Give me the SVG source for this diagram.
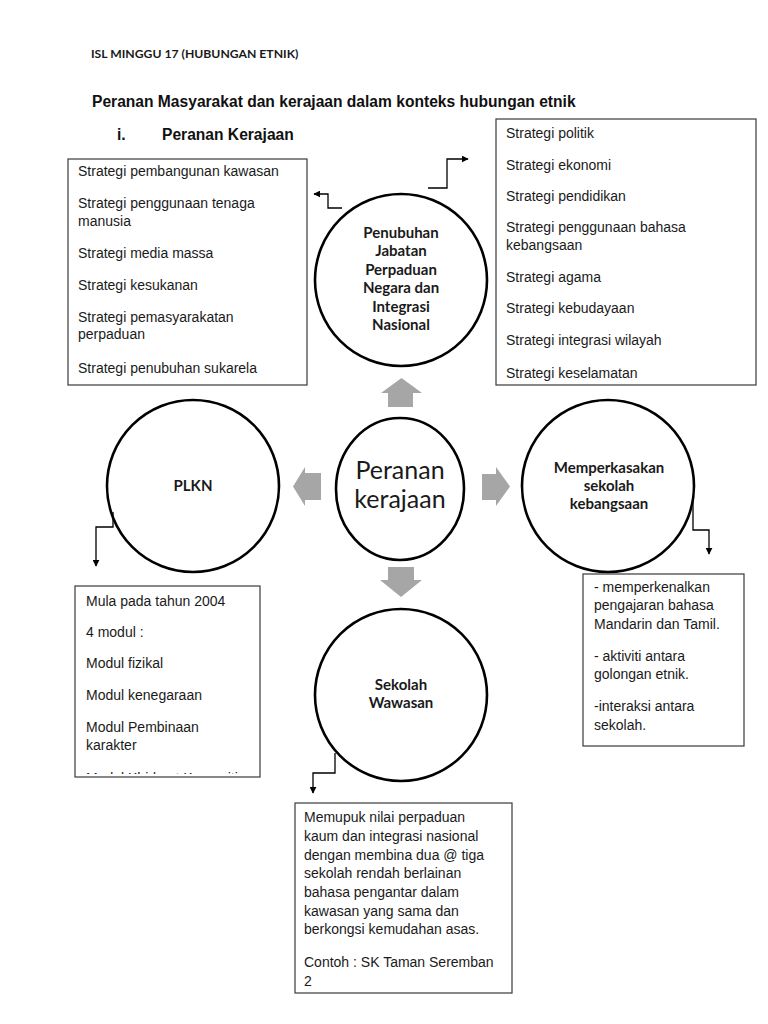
<svg xmlns="http://www.w3.org/2000/svg" width="768" height="1024" viewBox="0 0 768 1024">
<style>
.box{fill:#fff;stroke:#3a3a3a;stroke-width:1.2}
.t{font-family:"Liberation Sans",Arial,sans-serif;font-size:14px;fill:#1a1a1a}
.c{fill:#fff;stroke:#000;stroke-width:2.6}
.cl{font-family:Lato,"Open Sans",sans-serif;font-weight:bold;font-size:15px;fill:#1a1a1a;text-anchor:middle}
.blk{fill:#a6a6a6}
.con{fill:none;stroke:#000;stroke-width:1.3}
</style>
<defs>
<marker id="ah" viewBox="0 0 10 10" refX="9" refY="5" markerWidth="7" markerHeight="7" markerUnits="userSpaceOnUse" orient="auto"><path d="M0,0 L10,5 L0,10 z" fill="#000"/></marker>
<clipPath id="plknclip"><rect x="75" y="586" width="186" height="188"/></clipPath>
</defs>
<rect width="768" height="1024" fill="#fff"/>
<g id="header">
<text x="91" y="58" style="font-family:Lato,'Open Sans',sans-serif;font-weight:bold;font-size:12.2px;fill:#1a1a1a">ISL MINGGU 17 (HUBUNGAN ETNIK)</text>
<text x="92" y="107" style="font-family:'Liberation Sans',Arial,sans-serif;font-weight:bold;font-size:15.6px;fill:#111">Peranan Masyarakat dan kerajaan dalam konteks hubungan etnik</text>
<text x="117" y="140" style="font-family:'Liberation Sans',Arial,sans-serif;font-weight:bold;font-size:15.6px;fill:#111">i.</text>
<text x="162" y="140" style="font-family:'Liberation Sans',Arial,sans-serif;font-weight:bold;font-size:15.6px;fill:#111">Peranan Kerajaan</text>
</g>
<g id="box-left-strategies">
<rect class="box" x="68" y="159" width="239" height="226"/>
<text class="t" x="78" y="176">Strategi pembangunan kawasan</text>
<text class="t" x="78" y="208">Strategi penggunaan tenaga</text>
<text class="t" x="78" y="226">manusia</text>
<text class="t" x="78" y="258">Strategi media massa</text>
<text class="t" x="78" y="290">Strategi kesukanan</text>
<text class="t" x="78" y="322">Strategi pemasyarakatan</text>
<text class="t" x="78" y="339">perpaduan</text>
<text class="t" x="78" y="373">Strategi penubuhan sukarela</text>
</g>
<g id="box-right-strategies">
<rect class="box" x="496" y="119" width="260" height="266"/>
<text class="t" x="506" y="138">Strategi politik</text>
<text class="t" x="506" y="170">Strategi ekonomi</text>
<text class="t" x="506" y="201">Strategi pendidikan</text>
<text class="t" x="506" y="232">Strategi penggunaan bahasa</text>
<text class="t" x="506" y="250">kebangsaan</text>
<text class="t" x="506" y="282">Strategi agama</text>
<text class="t" x="506" y="313">Strategi kebudayaan</text>
<text class="t" x="506" y="345">Strategi integrasi wilayah</text>
<text class="t" x="506" y="378">Strategi keselamatan</text>
</g>
<g id="node-jabatan">
<circle class="c" cx="401" cy="280" r="86"/>
<text class="cl" x="401" y="238">Penubuhan</text>
<text class="cl" x="401" y="256">Jabatan</text>
<text class="cl" x="401" y="275">Perpaduan</text>
<text class="cl" x="401" y="293">Negara dan</text>
<text class="cl" x="401" y="312">Integrasi</text>
<text class="cl" x="401" y="330">Nasional</text>
</g>
<g id="node-center">
<ellipse class="c" cx="400" cy="489" rx="64" ry="71"/>
<text x="400" y="479" style="font-family:Lato,'Open Sans',sans-serif;font-size:25px;fill:#1a1a1a;text-anchor:middle">Peranan</text>
<text x="400" y="508" style="font-family:Lato,'Open Sans',sans-serif;font-size:25px;fill:#1a1a1a;text-anchor:middle">kerajaan</text>
</g>
<g id="node-plkn">
<circle class="c" cx="193" cy="486" r="86"/>
<text class="cl" x="193" y="491">PLKN</text>
</g>
<g id="node-memperkasakan">
<circle class="c" cx="608" cy="486" r="86"/>
<text class="cl" x="609" y="473">Memperkasakan</text>
<text class="cl" x="609" y="491">sekolah</text>
<text class="cl" x="609" y="509">kebangsaan</text>
</g>
<g id="node-wawasan">
<circle class="c" cx="401" cy="695" r="86"/>
<text class="cl" x="401" y="690">Sekolah</text>
<text class="cl" x="401" y="708">Wawasan</text>
</g>
<g id="box-plkn">
<rect class="box" x="75" y="586" width="185" height="191"/>
<text class="t" x="86" y="606">Mula pada tahun 2004</text>
<text class="t" x="86" y="637">4 modul :</text>
<text class="t" x="86" y="668">Modul fizikal</text>
<text class="t" x="86" y="700">Modul kenegaraan</text>
<text class="t" x="86" y="732">Modul Pembinaan</text>
<text class="t" x="86" y="750">karakter</text>
<text class="t" x="86" y="783" clip-path="url(#plknclip)">Modul Khidmat Komuniti</text>
</g>
<g id="box-memperkasakan">
<rect class="box" x="583" y="574" width="161" height="172"/>
<text class="t" x="594" y="592">- memperkenalkan</text>
<text class="t" x="594" y="610">pengajaran bahasa</text>
<text class="t" x="594" y="629">Mandarin dan Tamil.</text>
<text class="t" x="594" y="661">- aktiviti antara</text>
<text class="t" x="594" y="679">golongan etnik.</text>
<text class="t" x="594" y="711">-interaksi antara</text>
<text class="t" x="594" y="730">sekolah.</text>
</g>
<g id="box-wawasan">
<rect class="box" x="295" y="803" width="217" height="190"/>
<text class="t" x="304" y="822">Memupuk nilai perpaduan</text>
<text class="t" x="304" y="841">kaum dan integrasi nasional</text>
<text class="t" x="304" y="860">dengan membina dua @ tiga</text>
<text class="t" x="304" y="878">sekolah rendah berlainan</text>
<text class="t" x="304" y="897">bahasa pengantar dalam</text>
<text class="t" x="304" y="916">kawasan yang sama dan</text>
<text class="t" x="304" y="934">berkongsi kemudahan asas.</text>
<text class="t" x="304" y="967">Contoh : SK Taman Seremban</text>
<text class="t" x="304" y="986">2</text>
</g>
<g id="connectors">
<path class="blk" d="M401.5,378 L422,393 L413,393 L413,407 L388,407 L388,393 L381,393 Z"/>
<path class="blk" d="M388,567 L414,567 L414,580 L422,580 L401,597 L380,580 L388,580 Z"/>
<path class="blk" d="M321,473 L321,500 L305,500 L305,506 L293,486.5 L305,467 L305,473 Z"/>
<path class="blk" d="M482,474 L496,474 L496,467 L510,486.5 L496,506 L496,500 L482,500 Z"/>
<path class="con" d="M342,208 L328,208 L328,194 L314,194" marker-end="url(#ah)"/>
<path class="con" d="M428,188 L447,188 L447,159 L468,159" marker-end="url(#ah)"/>
<path class="con" d="M113,512 L113,527 L96,527 L96,566" marker-end="url(#ah)"/>
<path class="con" d="M693,499 L693,530 L709,530 L709,554" marker-end="url(#ah)"/>
<path class="con" d="M335,753 L335,773 L313,773 L313,793" marker-end="url(#ah)"/>
</g>
</svg>
